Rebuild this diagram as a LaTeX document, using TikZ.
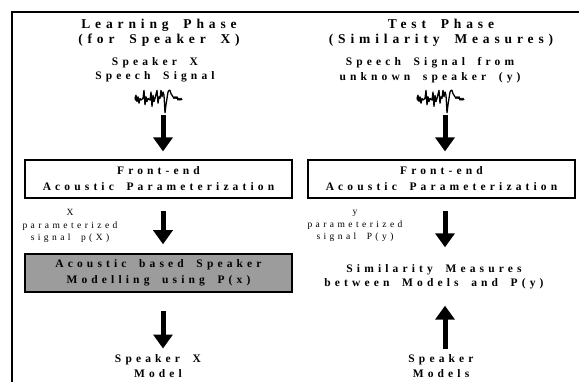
\documentclass[tikz,border=0pt]{standalone}
\usepackage{fontspec}
\setmainfont{Liberation Serif}
\newfontfamily\spaced[LetterSpace=36,WordSpace=1.8]{Liberation Serif}
\usetikzlibrary{arrows.meta}
\definecolor{boxgray}{RGB}{156,156,156}
\tikzset{
  pics/speechwave/.style={code={
    \fill (-23.5,-1) circle (2);
    \draw[line width=1.3pt, line join=round, yscale=1.6]
      (-25,-1) -- (-24,-3) -- (-23,1) -- (-22,-2) -- (-21,2) -- (-20,-1) -- (-19,0)
      -- (-17,-1) -- (-16,-6) -- (-15,3) -- (-14,-2) -- (-13,1) -- (-12,-1) -- (-10,0)
      -- (-9,-5) -- (-8,4) -- (-7,-3) -- (-6,1) -- (-5,-1) -- (-3,-6) -- (-2,2) -- (-1,-2)
      -- (0,-1) -- (1,-6) -- (2,-2) -- (3,-5) -- (4,-3) -- (5,8) -- (6,3) -- (7,-1)
      -- (8,-5) -- (9,-6) -- (10,-6) -- (11,-4) -- (12,-3) -- (13,-2) -- (14,-1) -- (15,-2)
      -- (16,-1) -- (17,-2) -- (18,0) -- (19,-1) -- (20,0) -- (21,-1) -- (22,0);
  }}
}
\begin{document}
\begin{tikzpicture}[x=1pt,y=-1pt,
  every node/.style={inner sep=0pt, align=center},
  title/.style={font=\spaced\bfseries\fontsize{13.5}{15}\selectfont},
  caption/.style={font=\spaced\bfseries\fontsize{11.5}{14.5}\selectfont},
  note/.style={font=\spaced\fontsize{9.5}{12.5}\selectfont},
  box/.style={draw, line width=1.2pt, minimum width=267pt, minimum height=38pt,
    font=\spaced\bfseries\fontsize{11.5}{16}\selectfont},
  shaded/.style={box, fill=boxgray, line width=1.5pt},
  arr/.style={line width=5pt, -{Triangle[width=19pt,length=14pt]}},
  wavebox/.style={minimum width=50pt, minimum height=16pt},
]
\useasboundingbox (0,0) rectangle (579,382);

% outer frame
\draw[line width=2.5pt] (12,382) -- (12,12) -- (579,12);

% column headings
\node[title] (t1) at (159,33) {Learning Phase\\(for Speaker X)};
\node[title] (t2) at (441,33) {Test Phase\\(Similarity Measures)};

% input signals
\node[caption] (s1) at (155,70) {Speaker X\\Speech Signal};
\node[caption] (s2) at (430,70) {Speech Signal from\\unknown speaker (y)};
\node[wavebox] (w1) at (160,100) {};
\node[wavebox] (w2) at (442,100) {};
\pic at (w1.center) {speechwave};
\pic at (w2.center) {speechwave};

% processing blocks
\node[box] (fe1) at (158.5,179) {Front-end\\Acoustic Parameterization};
\node[box] (fe2) at (441.5,179) {Front-end\\Acoustic Parameterization};
\node[note] (l1) at (70,226) {X\\parameterized\\signal p(X)};
\node[note] (l2) at (355,226) {y\\parameterized\\signal P(y)};
\node[shaded] (gb) at (158.5,273) {Acoustic based Speaker\\Modelling using P(x)};
\node[caption] (sim) at (434,277) {Similarity Measures\\between Models and P(y)};

% outputs
\node[caption] (m1) at (158,366) {Speaker X\\Model};
\node[caption] (m2) at (441,366) {Speaker\\Models};

% arrow axes
\coordinate (ax1) at (163,0);
\coordinate (ax2) at (445,0);

% connectors
\draw[arr, shorten <=7pt, shorten >=8pt] (ax1 |- w1.south) -- (ax1 |- fe1.north);
\draw[arr, shorten <=12pt, shorten >=9pt] (ax1 |- fe1.south) -- (ax1 |- gb.north);
\draw[arr, shorten <=18pt, shorten >=6pt] (ax1 |- gb.south) -- (ax1 |- m1.north);
\draw[arr, shorten <=7pt, shorten >=8pt] (ax2 |- w2.south) -- (ax2 |- fe2.north);
\draw[arr, shorten <=12pt, shorten >=17pt] (ax2 |- fe2.south) -- (ax2 |- sim.north);
\draw[arr, shorten <=6pt, shorten >=16pt] (ax2 |- m2.north) -- (ax2 |- sim.south);
\end{tikzpicture}
\end{document}
